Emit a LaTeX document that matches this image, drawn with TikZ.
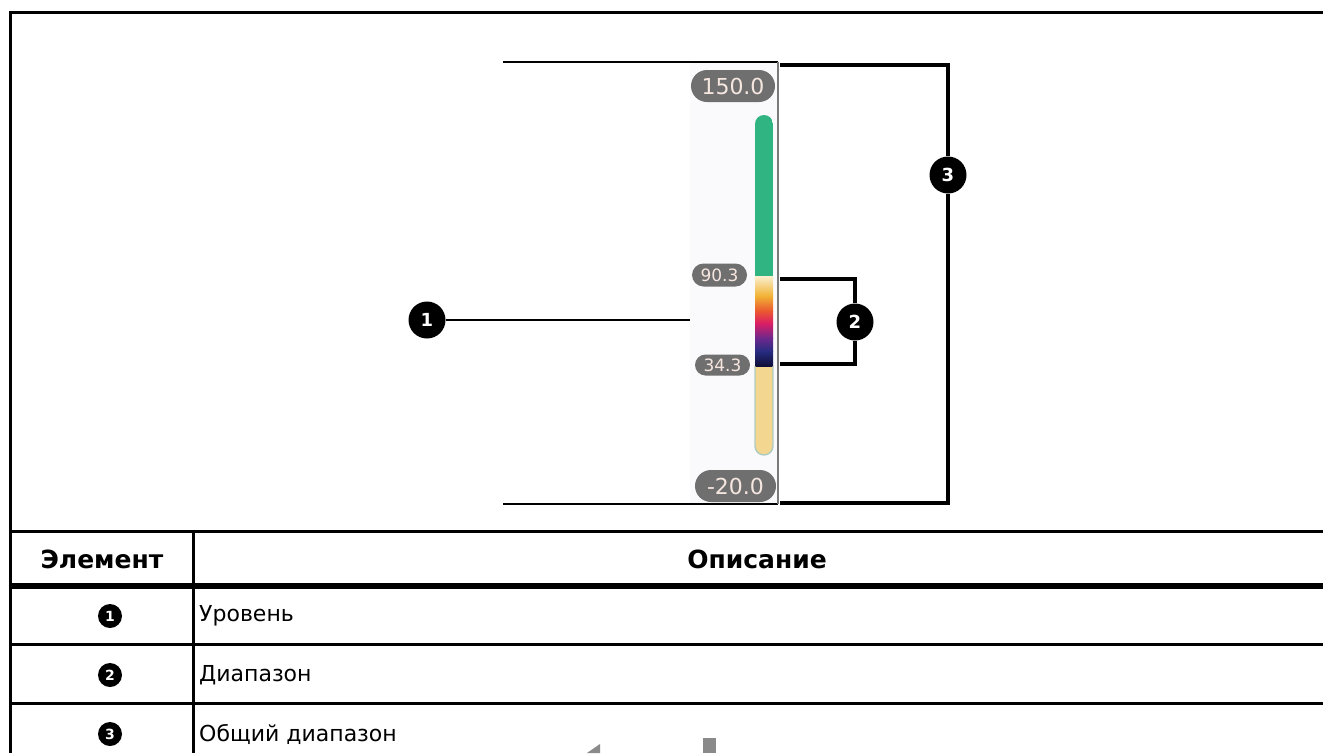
\documentclass[tikz,border=0pt]{standalone}
\usepackage{fontspec}
\setmainfont{DejaVu Sans}
\usetikzlibrary{shapes.misc}
\definecolor{pillgray}{HTML}{6F6F6F}
\definecolor{pilltext}{HTML}{F6E6E0}
\definecolor{panelbg}{HTML}{FAFAFC}
\definecolor{bargreen}{HTML}{2FB482}
\definecolor{barpale}{HTML}{F3D690}
\definecolor{barrim}{HTML}{AFCBBF}
\definecolor{sidegray}{HTML}{7A7A7A}
\definecolor{markgray}{HTML}{8A8A8A}
\begin{document}
\begin{tikzpicture}[x=1pt,y=-1pt,
  callout/.style={circle,fill=black,text=white,inner sep=0pt,minimum size=37pt,
    font=\bfseries\fontsize{18}{18}\selectfont},
  tabnum/.style={circle,fill=black,text=white,inner sep=0pt,minimum size=24pt,
    font=\bfseries\fontsize{14}{14}\selectfont},
  pillbig/.style={rounded rectangle,fill=pillgray,text=pilltext,inner sep=0pt,
    minimum height=32pt,minimum width=84pt,font=\fontsize{22}{22}\selectfont},
  pillsmall/.style={rounded rectangle,fill=pillgray,text=pilltext,inner sep=0pt,
    minimum height=23pt,minimum width=55pt,font=\fontsize{17}{17}\selectfont},
  leader/.style={line width=2.6pt},
  bracket/.style={line width=4pt},
  rule/.style={line width=3pt},
  cell/.style={font=\fontsize{22}{22}\selectfont,anchor=west,inner sep=0pt},
  head/.style={font=\bfseries\fontsize{25}{25}\selectfont,inner sep=0pt}]
\useasboundingbox (0,0) rectangle (1323,753);
\fill[white] (0,0) rectangle (1323,753);

% colour-scale panel
\fill[panelbg] (690,63) rectangle (777,503);
\draw[line width=2pt] (503,62) -- (778,62);
\draw[line width=2pt] (503,504) -- (778,504);
\draw[sidegray,line width=2pt] (778,62) -- (778,504);

% colour bar
\begin{scope}
  \clip[rounded corners=9pt] (755,115) rectangle (773,455);
  \fill[bargreen] (755,110) rectangle (773,276);
  \fill[barpale] (755,366) rectangle (773,460);
  \shade[top color={rgb,255:red,250;green,240;blue,208},bottom color={rgb,255:red,242;green,178;blue,52}] (755,276) rectangle (773,296);
  \shade[top color={rgb,255:red,242;green,178;blue,52},bottom color={rgb,255:red,234;green,88;blue,48}] (755,296) rectangle (773,311);
  \shade[top color={rgb,255:red,234;green,88;blue,48},bottom color={rgb,255:red,220;green,30;blue,100}] (755,311) rectangle (773,323);
  \shade[top color={rgb,255:red,220;green,30;blue,100},bottom color={rgb,255:red,110;green,40;blue,140}] (755,323) rectangle (773,338);
  \shade[top color={rgb,255:red,110;green,40;blue,140},bottom color={rgb,255:red,40;green,44;blue,130}] (755,338) rectangle (773,351);
  \shade[top color={rgb,255:red,40;green,44;blue,130},bottom color={rgb,255:red,14;green,14;blue,56}] (755,351) rectangle (773,366);
\end{scope}
\draw[barrim,line width=1.4pt,rounded corners=9pt] (755,366) -- (755,455) -- (773,455) -- (773,366);

% scale labels
\node[pillbig] (tmax) at (733,86) {150.0};
\node[pillbig,minimum width=81pt] (tmin) at (735.5,486) {-20.0};
\node[pillsmall] (thi) at (719.5,275) {90.3};
\node[pillsmall,minimum height=21pt] (tlo) at (722.5,365) {34.3};

% callout 1: level
\node[callout] (c1) at (427,320) {1};
\coordinate (lvl) at (690,320);
\draw[leader] (c1) -- (lvl);

% callout 2: span
\node[callout] (c2) at (855,322) {2};
\coordinate (s2a) at (780,279);
\coordinate (s2b) at (780,364);
\draw[bracket] (s2a) -| (c2.north);
\draw[bracket] (s2b) -| (c2.south);

% callout 3: full range
\node[callout] (c3) at (948,175) {3};
\coordinate (s3a) at (780,65);
\coordinate (s3b) at (780,503);
\draw[bracket] (s3a) -| (c3.north);
\draw[bracket] (s3b) -| (c3.south);

% frame and table rules
\draw[rule] (10,753) -- (10,12) -- (1323,12);
\draw[rule] (10,531) -- (1323,531);
\draw[rule] (193,531) -- (193,753);
\draw[line width=6pt] (10,586) -- (1323,586);
\draw[rule] (10,644) -- (1323,644);
\draw[rule] (10,703) -- (1323,703);

% table contents
\node[head] (h1) at (102,559) {Элемент};
\node[head] (h2) at (757,559) {Описание};
\node[tabnum] (n1) at (110,616) {1};
\node[tabnum] (n2) at (110,675) {2};
\node[tabnum] (n3) at (110,734) {3};
\node[cell] (d1) at (199,616) {Уровень};
\node[cell] (d2) at (199,675) {Диапазон};
\node[cell] (d3) at (199,734) {Общий диапазон};

% grey marks at the lower edge
\fill[markgray] (587,753) -- (600,744) -- (600,753) -- cycle;
\fill[markgray] (703,738) rectangle (716,753);
\end{tikzpicture}
\end{document}
